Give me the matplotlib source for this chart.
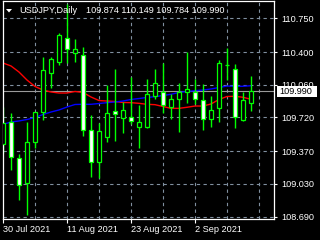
import matplotlib
matplotlib.use("Agg")
import matplotlib.pyplot as plt
from matplotlib.patches import Polygon, Rectangle
import numpy as np

# ---- data ----
opens = [109.445, 109.676, 109.299, 109.043, 109.469, 109.774, 110.187, 110.291,
         110.542, 110.387, 110.369, 109.595, 109.253, 109.514, 109.787, 109.712,
         109.730, 109.624, 109.624, 109.946, 109.980, 109.832, 109.909, 109.988,
         109.980, 109.902, 109.701, 109.815, 110.262, 110.220, 109.694, 109.874]
highs = [109.829, 109.767, 109.341, 109.676, 109.776, 110.345, 110.345, 110.597,
         110.898, 110.532, 110.452, 109.746, 109.663, 110.057, 110.224, 109.884,
         110.144, 109.850, 110.117, 110.224, 110.289, 109.964, 110.075, 110.403,
         110.115, 110.068, 109.940, 110.317, 110.438, 110.275, 109.988, 110.149]
lows = [109.351, 109.175, 108.863, 108.708, 109.398, 109.694, 110.023, 110.270,
        110.283, 110.299, 109.528, 109.105, 109.092, 109.466, 109.479, 109.562,
        109.649, 109.406, 109.606, 109.912, 109.770, 109.701, 109.572, 109.874,
        109.860, 109.590, 109.624, 109.676, 110.110, 109.614, 109.685, 109.784]
closes = [109.663, 109.310, 109.014, 109.469, 109.774, 110.213, 110.324, 110.577,
          110.426, 110.428, 109.590, 109.255, 109.578, 109.764, 109.753, 109.798,
          109.684, 109.670, 109.969, 110.075, 109.850, 109.909, 109.988, 110.013,
          109.917, 109.701, 109.798, 110.283, 110.265, 109.728, 109.902, 109.990]
ma_red = [110.286, 110.255, 110.192, 110.109, 110.042, 110.005, 109.985, 109.974,
          109.974, 109.990, 109.980, 109.933, 109.896, 109.891, 109.886, 109.876,
          109.874, 109.867, 109.857, 109.853, 109.834, 109.815, 109.815, 109.826,
          109.839, 109.839, 109.860, 109.907, 109.938, 109.940, 109.930, 109.909]
ma_blue = [109.649, 109.673, 109.684, 109.699, 109.720, 109.751, 109.777, 109.798,
           109.829, 109.855, 109.857, 109.857, 109.865, 109.874, 109.881, 109.891,
           109.907, 109.917, 109.928, 109.936, 109.948, 109.961, 109.980, 109.990,
           109.998, 110.005, 110.016, 110.031, 110.047, 110.044, 110.044, 110.050]
price_ticks = [110.750, 110.400, 110.060, 109.720, 109.370, 109.030, 108.690]
date_tick_idx = [0, 8, 16, 24]
date_tick_labels = ["30 Jul 2021", "11 Aug 2021", "23 Aug 2021", "2 Sep 2021"]
vgrid_idx = [4, 8, 12, 16, 20, 24, 28, 32]
symbol_text = "USDJPY,Daily"
ohlc_text = "109.874 110.149 109.784 109.990"
last_bid = 109.990

# ---- styling ----
FONT = ["Liberation Sans", "DejaVu Sans"]
FS = 6.6
FG = "white"
LIME = "#00ff00"
GRID = "#8090a0"

W, H = 320, 240
fig = plt.figure(figsize=(W / 100, H / 100), dpi=100, facecolor="black")
ax_l, ax_r, ax_t, ax_b = 2.7, 274.3, 1.0, 218.5
ax = fig.add_axes([ax_l / W, (H - ax_b) / H, (ax_r - ax_l) / W, (ax_b - ax_t) / H])
ax.set_facecolor("black")

x = np.arange(len(opens))
ax.set_xlim(-0.0375, 33.9125)
ax.set_ylim(108.6711, 110.9296)

# grid
for p in price_ticks:
    ax.axhline(p, color=GRID, lw=0.8, ls=(0, (3, 3)), zorder=1)
for i in vgrid_idx:
    ax.axvline(i, color=GRID, lw=0.8, ls=(0, (3, 3)), zorder=1)

# bid line
ax.axhline(last_bid, color="#9a9a9a", lw=0.8, zorder=1.2)

# moving averages
ax.plot(x, ma_red, color="#ff0000", lw=1.0, zorder=1.5)
ax.plot(x, ma_blue, color="#0000ff", lw=1.0, zorder=1.5)

# candles
o = np.array(opens); c = np.array(closes)
ax.vlines(x, lows, highs, color=LIME, lw=1.0, zorder=2)
bottoms = np.minimum(o, c)
heights = np.maximum(np.abs(c - o), 0.0005)
fills = ["white" if cc < oo else "black" for oo, cc in zip(o, c)]
ax.bar(x, heights, bottom=bottoms, width=0.55, color=fills, edgecolor=LIME,
       linewidth=0.9, zorder=3)

# spines
for s in ax.spines.values():
    s.set_color(FG)
    s.set_linewidth(0.9)

# axes ticks
ax.yaxis.tick_right()
ax.set_yticks(price_ticks)
ax.set_yticklabels([f"{p:.3f}" for p in price_ticks])
ax.set_xticks(date_tick_idx)
ax.set_xticklabels(date_tick_labels)
ax.tick_params(axis="y", colors=FG, length=2.5, width=0.8, pad=2.5,
               labelsize=FS, labelcolor=FG)
ax.tick_params(axis="x", colors=FG, length=3, width=0.8, pad=2,
               labelsize=FS, labelcolor=FG)
for lab in ax.get_xticklabels():
    lab.set_horizontalalignment("left")
    lab.set_fontfamily(FONT)
for lab in ax.get_yticklabels():
    lab.set_fontfamily(FONT)

# bid price box on the axis
tr = ax.get_yaxis_transform()
axw = ax_r - ax_l
box = Rectangle((1 + 2.4 / axw, last_bid - 0.055), 40.6 / axw, 0.11,
                transform=tr, facecolor="white", edgecolor="none",
                clip_on=False, zorder=6)
ax.add_patch(box)
ax.text(1 + 5.5 / axw, last_bid, f"{last_bid:.3f}", transform=tr, color="black",
        fontsize=FS, family=FONT, va="center", ha="left", clip_on=False, zorder=7)

# header
tri = Polygon([(6 / W, 1 - 9 / H), (12 / W, 1 - 9 / H), (9 / W, 1 - 12.5 / H)],
              closed=True, transform=fig.transFigure, facecolor=FG, edgecolor="none",
              zorder=10)
fig.patches.append(tri)
fig.text(19 / W, 1 - 10.5 / H, symbol_text, color=FG, fontsize=FS, family=FONT,
         va="center", ha="left", zorder=10)
fig.text(85.7 / W, 1 - 10.5 / H, ohlc_text, color=FG, fontsize=FS, family=FONT,
         va="center", ha="left", zorder=10)

fig.savefig("out.png", dpi=100, facecolor="black")
